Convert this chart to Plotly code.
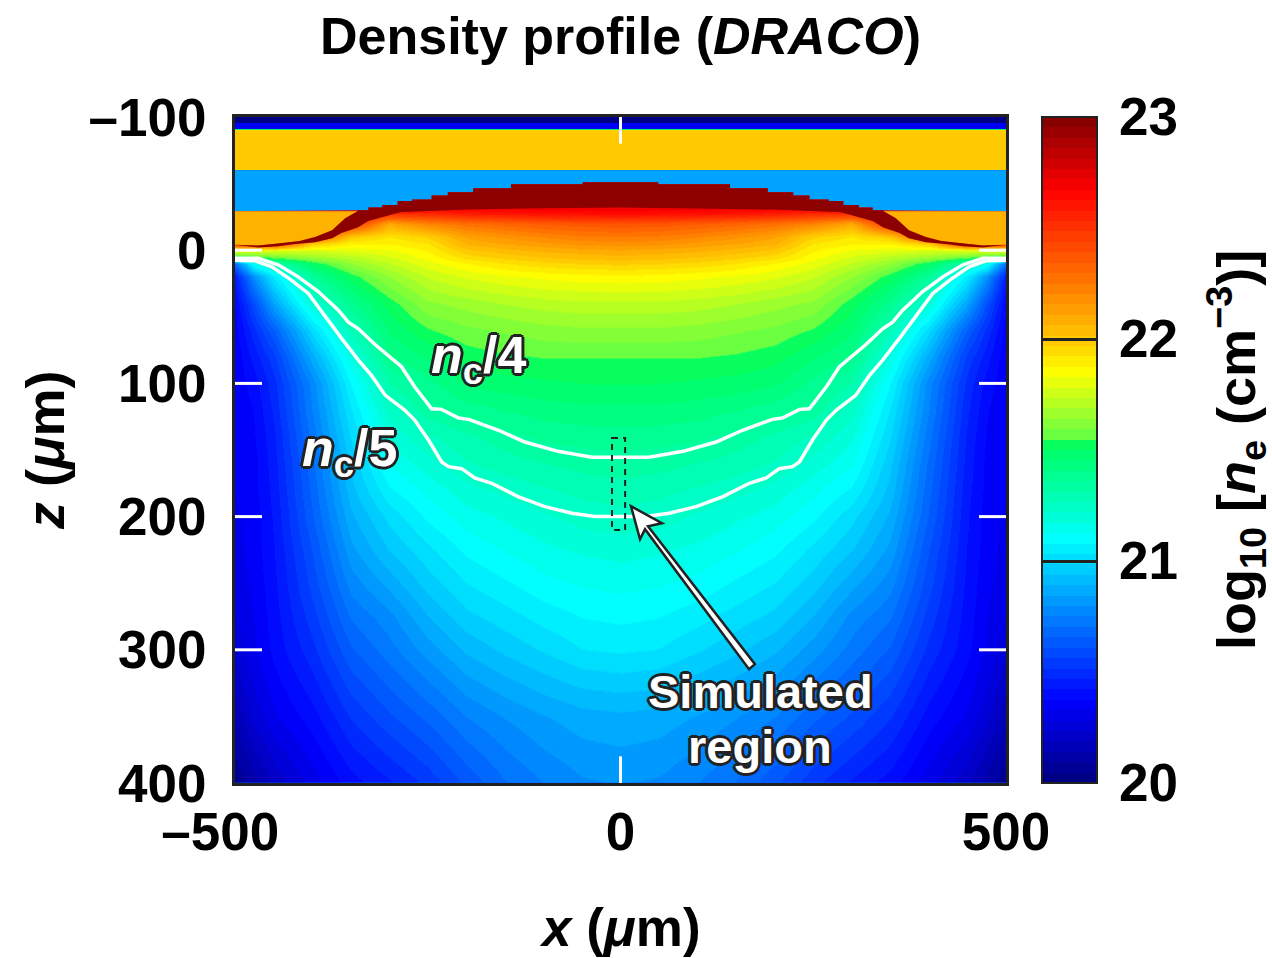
import plotly.graph_objects as go

# ---------- data ----------
x_half = [0, 50, 100, 150, 200, 250, 300, 350, 400, 450, 475, 500]
z_rows = [-50, -32, -28, -20, -10, -5, 0, 5, 10, 20, 40, 60, 80, 100, 120, 140, 160, 180,
          200, 225, 250, 275, 300, 350, 400]
density_half = [
    [22.70, 22.70, 22.70, 22.70, 22.70, 22.70, 22.70, 22.70, 22.70, 22.70, 22.70, 22.70],
    [22.70, 22.70, 22.70, 22.70, 22.70, 22.70, 22.70, 22.70, 22.70, 22.70, 22.70, 22.70],
    [22.66, 22.65, 22.64, 22.62, 22.60, 22.55, 22.55, 22.70, 22.70, 22.70, 22.70, 22.70],
    [22.38, 22.37, 22.35, 22.32, 22.28, 22.22, 22.10, 22.50, 22.70, 22.70, 22.70, 22.70],
    [22.25, 22.24, 22.21, 22.17, 22.12, 21.98, 21.92, 22.00, 22.40, 22.70, 22.70, 22.70],
    [22.18, 22.17, 22.14, 22.11, 22.07, 21.92, 21.88, 21.88, 22.00, 22.50, 22.50, 22.50],
    [22.10, 22.09, 22.07, 22.04, 22.00, 21.88, 21.82, 21.80, 21.77, 21.78, 21.80, 21.80],
    [22.05, 22.04, 22.02, 21.99, 21.95, 21.85, 21.78, 21.72, 21.67, 21.60, 21.55, 21.50],
    [21.98, 21.97, 21.95, 21.92, 21.87, 21.81, 21.73, 21.64, 21.50, 21.30, 21.15, 20.70],
    [21.86, 21.855, 21.84, 21.82, 21.79, 21.74, 21.64, 21.52, 21.36, 21.05, 20.80, 20.45],
    [21.72, 21.72, 21.71, 21.69, 21.66, 21.63, 21.52, 21.39, 21.20, 20.85, 20.60, 20.38],
    [21.63, 21.63, 21.62, 21.60, 21.58, 21.54, 21.46, 21.28, 21.00, 20.65, 20.50, 20.35],
    [21.55, 21.55, 21.55, 21.54, 21.52, 21.46, 21.40, 21.17, 20.87, 20.55, 20.44, 20.34],
    [21.50, 21.50, 21.49, 21.48, 21.46, 21.39, 21.31, 21.08, 20.77, 20.50, 20.40, 20.34],
    [21.44, 21.44, 21.43, 21.41, 21.38, 21.34, 21.24, 21.03, 20.75, 20.48, 20.38, 20.33],
    [21.38, 21.38, 21.37, 21.34, 21.30, 21.26, 21.18, 20.99, 20.72, 20.46, 20.37, 20.33],
    [21.34, 21.33, 21.31, 21.29, 21.26, 21.20, 21.13, 20.95, 20.69, 20.45, 20.36, 20.33],
    [21.29, 21.28, 21.26, 21.235, 21.20, 21.14, 21.07, 20.92, 20.67, 20.44, 20.36, 20.33],
    [21.25, 21.24, 21.21, 21.18, 21.15, 21.09, 21.00, 20.88, 20.65, 20.43, 20.35, 20.32],
    [21.19, 21.18, 21.16, 21.13, 21.09, 21.02, 20.94, 20.83, 20.61, 20.42, 20.35, 20.31],
    [21.14, 21.13, 21.11, 21.07, 21.03, 20.96, 20.86, 20.77, 20.58, 20.41, 20.34, 20.30],
    [21.09, 21.08, 21.05, 21.01, 20.97, 20.89, 20.78, 20.71, 20.54, 20.40, 20.33, 20.28],
    [21.04, 21.03, 20.99, 20.95, 20.90, 20.82, 20.73, 20.65, 20.50, 20.39, 20.32, 20.25],
    [20.88, 20.87, 20.84, 20.80, 20.75, 20.67, 20.60, 20.52, 20.40, 20.32, 20.25, 20.15],
    [20.80, 20.79, 20.75, 20.70, 20.62, 20.53, 20.46, 20.40, 20.30, 20.20, 20.12, 20.05],
]

# layered vacuum bands above the target
band_edges = [-100, -95.5, -91.2, -90.5, -60]
band_values = [20.03, 20.37, 21.50, 21.97]
sky_value = 20.85
orange_value = 22.07
band_bottom = -60
sky_bottom = -29.3
blob_value = 22.97

# sloped flank of the dense cap (left side)
flank_x = [-500, -470, -444, -416, -396, -374, -357, -341]
flank_z = [-4, -3.5, -5, -7, -10, -15, -24, -29.3]
# stepped top of the dense cap (left half, from the flank to the crown)
cap_edges = [-341, -327, -309, -289, -270, -245, -224, -191, -142, -49]
cap_top = [-30, -32, -34, -37, -38, -41, -43.5, -46.5, -49.5, -51]
# smooth underside (left half)
under_x = [-500, -470, -444, -425, -396, -374, -362, -341, -327, -286, -200, -100, 0]
under_z = [-4, -2, -3, -4.5, -6, -9, -13, -17, -22, -28.5, -30.5, -31.5, -32]

# contours (left half, x then z)
nc5_x = [-500, -474, -452, -427, -405, -383, -362, -340, -323, -305, -280, -267, -249, -232, -223, -206, -189, -167, -133, -98, -63, -33, 0]
nc5_z = [7.5, 8, 12.5, 22.5, 32.5, 50, 66, 82.5, 94, 109, 120, 127.5, 142.5, 159, 162.5, 164, 171, 175, 185, 192.5, 197.5, 200, 200]
nc4_x = [-500, -470, -444, -418, -392, -366, -353, -340, -318, -284, -267, -254, -245, -232, -210, -197, -159, -124, -81, -37, 0]
nc4_z = [6, 6, 11, 20, 31, 45, 54, 59, 71, 87.5, 102.5, 112.5, 119, 119.5, 126, 127, 135, 144, 151, 155.5, 155.5]

color_value_stops = [20.0, 20.37, 20.75, 21.1, 21.3, 21.52, 21.56, 21.85, 22.0, 22.3, 22.67, 23.0]
color_rgb_stops = [(0, 0, 127), (0, 0, 255), (0, 128, 255), (0, 255, 255), (0, 255, 176), (0, 255, 96),
                   (102, 255, 68), (255, 255, 0), (255, 200, 0), (255, 106, 0), (255, 0, 0), (128, 0, 0)]
colorbar_ticks = [20, 21, 22, 23]
x_ticks = [-500, 0, 500]
x_ticktext = ["\u2013500\u00a0\u00a0", "0", "500"]
z_ticks = [-100, 0, 100, 200, 300, 400]
z_ticktext = ["\u2013100", "0", "100", "200", "300", "400"]
white_z_ticks = [0, 100, 200, 300]

# ---------- helpers ----------
L, R, T, B = 235, 1006, 117, 783
DARK = "#222222"
FONT = "Liberation Sans"
def PX(p): return (p - L) / (R - L)
def PY(p): return (B - p) / (B - T)

def rgb_at(v):
    for i in range(len(color_value_stops) - 1):
        a, b = color_value_stops[i], color_value_stops[i + 1]
        if v <= b:
            t = (v - a) / (b - a)
            c0, c1 = color_rgb_stops[i], color_rgb_stops[i + 1]
            return tuple(int(round(c0[k] + (c1[k] - c0[k]) * t)) for k in range(3))
    return color_rgb_stops[-1]

def css(v):
    return "rgb(%d,%d,%d)" % rgb_at(v)

N = 64
colorscale = []
for i in range(N):
    c = css(20 + 3 * (i + 0.5) / N)
    colorscale += [[i / N, c], [(i + 1) / N, c]]

x_full = [-v for v in x_half[:0:-1]] + x_half
z_full = [[*row[:0:-1], *row] for row in density_half]

def mirror(xs, zs):
    return xs + [-v for v in xs[-2::-1]], zs + zs[-2::-1]

# stepped crown across the full width
crown_x, crown_z = [], []
for i, lvl in enumerate(cap_top):
    x0 = cap_edges[i]
    x1 = cap_edges[i + 1] if i + 1 < len(cap_edges) else -x0
    crown_x += [x0, x1]
    crown_z += [lvl, lvl]
for i in range(len(cap_top) - 2, -1, -1):
    crown_x += [-cap_edges[i + 1], -cap_edges[i]]
    crown_z += [cap_top[i], cap_top[i]]

ux, uz = mirror(under_x, under_z)

def poly(xs, zs, color):
    return go.Scatter(x=xs, y=zs, mode="lines", fill="toself", fillcolor=color,
                      line=dict(width=0, color=color), hoverinfo="skip", showlegend=False)

fig = go.Figure()
fig.add_trace(go.Heatmap(x=x_full, y=z_rows, z=z_full, coloraxis="coloraxis", zsmooth="best", hoverinfo="skip"))
# sky band with cap-shaped bottom
sky_x = [-500, 500, 500] + crown_x[::-1] + [-500]
sky_z = [band_bottom, band_bottom, sky_bottom] + crown_z[::-1] + [sky_bottom]
fig.add_trace(poly(sky_x, sky_z, css(sky_value)))
# orange band on both flanks
fl_x = flank_x + [-500]
fl_z = flank_z + [sky_bottom]
fig.add_trace(poly(fl_x, fl_z, css(orange_value)))
fig.add_trace(poly([-v for v in fl_x], fl_z, css(orange_value)))
# dense cap
cap_x = flank_x + crown_x + [-v for v in flank_x[::-1]] + ux[::-1]
cap_z = flank_z + crown_z + flank_z[::-1] + uz[::-1]
fig.add_trace(poly(cap_x, cap_z, css(blob_value)))
# bands above
fig.add_trace(go.Heatmap(x=[-500, 500], y=band_edges, z=[[v] for v in band_values],
                         coloraxis="coloraxis", hoverinfo="skip"))
# contours
for xs, zs in ((nc4_x, nc4_z), (nc5_x, nc5_z)):
    mx, mz = mirror(xs, zs)
    fig.add_trace(go.Scatter(x=mx, y=mz, mode="lines", line=dict(color="white", width=3.5),
                             hoverinfo="skip", showlegend=False))

shapes = []
for z in white_z_ticks:
    shapes.append(dict(type="line", xref="x", yref="y", x0=-500, x1=-465, y0=z, y1=z, line=dict(color="white", width=3)))
    shapes.append(dict(type="line", xref="x", yref="y", x0=465, x1=500, y0=z, y1=z, line=dict(color="white", width=3)))
shapes.append(dict(type="line", xref="x", yref="y", x0=0, x1=0, y0=-100, y1=-80, line=dict(color="white", width=3)))
shapes.append(dict(type="line", xref="x", yref="y", x0=0, x1=0, y0=380, y1=400, line=dict(color="white", width=3)))
# simulated region
shapes.append(dict(type="rect", xref="x", yref="y", x0=-11, x1=6, y0=141, y1=210,
                   line=dict(color=DARK, width=2, dash="6px,5px")))
# arrow
arrow = [(13.6, 192.2), (53.8, 205), (35.7, 207.2), (174.4, 310.8), (166.7, 314.6), (31.8, 209.5), (25.3, 217)]
shapes.append(dict(type="path", xref="x", yref="y",
                   path="M " + " L ".join(f"{a} {b}" for a, b in arrow) + " Z",
                   fillcolor="white", line=dict(color=DARK, width=2.5)))

OUTLINE = ", ".join(f"{a}px {b}px 0 {DARK}" for a, b in
                    [(-2, -2), (2, -2), (-2, 2), (2, 2), (0, -3), (0, 3), (-3, 0), (3, 0)])

def note(text, px, py, size, angle=0, color="black", shadow=None, anchor="center"):
    f = dict(family=FONT, size=size, color=color, weight=700)
    if shadow:
        f["shadow"] = shadow
    return dict(text=text, xref="paper", yref="paper", x=PX(px), y=PY(py), xanchor=anchor, yanchor="middle",
                showarrow=False, textangle=angle, font=f)

annotations = [
    note("Density profile (<i>DRACO</i>)", 620, 36, 52),
    note("<i>x</i> (<i>\u03bc</i>m)", 620, 927, 53),
    note("<i>z</i> (<i>\u03bc</i>m)", 45, 450, 54, angle=-90),
    note("log<sub>10</sub> [<i>n</i><sub>e</sub> (cm<sup>\u22123</sup>)]", 1236, 450, 54, angle=-90),
    note("<i>n</i><sub>c</sub>/4", 478, 359, 52, color="white", shadow=OUTLINE),
    note("<i>n</i><sub>c</sub>/5", 349, 452, 52, color="white", shadow=OUTLINE),
    note("Simulated", 760, 691, 47, color="white", shadow=OUTLINE),
    note("region", 760, 746, 47, color="white", shadow=OUTLINE),
]
for v in colorbar_ticks:
    annotations.append(note(str(v), 1117, B - (v - 20) / 3 * (B - T) - 1, 53, anchor="left"))

tickfont = dict(family=FONT, size=53, color="black", weight=700)
fig.update_layout(
    width=1272, height=958, autosize=False,
    margin=dict(l=L, r=1272 - R, t=T, b=958 - B, pad=0),
    paper_bgcolor="white", plot_bgcolor="#0060ff", showlegend=False,
    font=dict(family=FONT),
    xaxis=dict(range=[-500, 500], tickvals=x_ticks, ticktext=x_ticktext, tickangle=0, ticks="", showgrid=False,
               zeroline=False, showline=True, mirror=True, linecolor=DARK, linewidth=3,
               tickfont=tickfont, ticklabelstandoff=0),
    yaxis=dict(range=[400, -100], tickvals=z_ticks, ticktext=z_ticktext, ticks="", showgrid=False,
               zeroline=False, showline=True, mirror=True, linecolor=DARK, linewidth=3,
               tickfont=tickfont, ticklabelstandoff=15),
    coloraxis=dict(cmin=20, cmax=23, colorscale=colorscale,
                   colorbar=dict(x=PX(1042), xanchor="left", xpad=0, y=0.5, yanchor="middle", ypad=0,
                                 len=1, lenmode="fraction", thickness=55, thicknessmode="pixels",
                                 outlinecolor=DARK, outlinewidth=2,
                                 tickvals=colorbar_ticks, showticklabels=False,
                                 ticks="inside", ticklen=55, tickwidth=3, tickcolor=DARK)),
    shapes=shapes, annotations=annotations,
)
fig.write_html("out.html", config={"displayModeBar": False},
               post_script="document.body.style.margin='0';document.body.style.overflow='hidden';")
